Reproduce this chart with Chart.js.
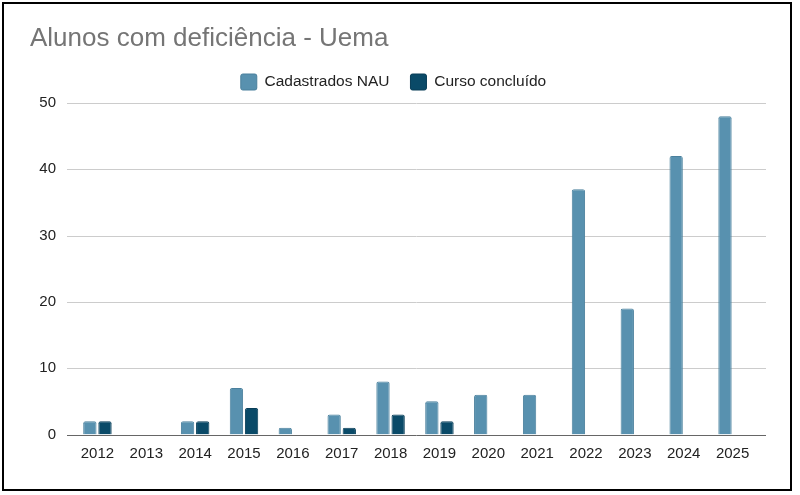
<!DOCTYPE html>
<html>
<head>
<meta charset="utf-8">
<script src="https://cdn.jsdelivr.net/npm/chart.js@4.4.1/dist/chart.umd.min.js"></script>
<style>
    html, body { margin: 0; padding: 0; background: #fff; }
    #frame {
        position: absolute; left: 2px; top: 2px;
        width: 786px; height: 485px;
        border: 2px solid #000;
    }
</style>
</head>
<body>
<div id="frame"><canvas id="barChart" width="786" height="485"></canvas></div>
<script>
var years = ["2012", "2013", "2014", "2015", "2016", "2017", "2018", "2019", "2020", "2021", "2022", "2023", "2024", "2025"];
var cadastrados = [2, 0, 2, 7, 1, 3, 8, 5, 6, 6, 37, 19, 42, 48];
var concluido = [2, 0, 2, 4, 0, 1, 3, 2, 0, 0, 0, 0, 0, 0];
var yTicks = [0, 10, 20, 30, 40, 50];

// grid lines in the reference run a little past the bar area on both sides
var wideGrid = {
    id: 'wideGrid',
    beforeDatasetsDraw: function(chart) {
        var ctx = chart.ctx, area = chart.chartArea, y = chart.scales.y;
        ctx.save();
        ctx.strokeStyle = "#cccccc";
        ctx.lineWidth = 1;
        yTicks.forEach(function(v) {
            if (v === 0) return;
            var py = Math.round(y.getPixelForValue(v)) + 0.5;
            ctx.beginPath();
            ctx.moveTo(area.left - 6, py);
            ctx.lineTo(area.right + 9, py);
            ctx.stroke();
        });
        ctx.restore();
    },
    afterDatasetsDraw: function(chart) {
        var ctx = chart.ctx, area = chart.chartArea, y = chart.scales.y;
        var py = Math.round(y.getPixelForValue(0)) + 0.5;
        ctx.save();
        ctx.strokeStyle = "#666666";
        ctx.lineWidth = 1;
        ctx.beginPath();
        ctx.moveTo(area.left - 6, py);
        ctx.lineTo(area.right + 9, py);
        ctx.stroke();
        ctx.restore();
    }
};

// fixed legend height so the plot top lands where the reference has it
var legendGap = {
    id: 'legendGap',
    beforeInit: function(chart) {
        var fit = chart.legend.fit;
        chart.legend.fit = function() {
            fit.bind(chart.legend)();
            this.height = 50;
        };
    }
};

window.onload = function () {
    var ctx = document.getElementById("barChart").getContext("2d");
    var myChart = new Chart(ctx, {
        type: 'bar',
        data: {
            labels: years,
            datasets: [{
                label: "Cadastrados NAU",
                data: cadastrados,
                backgroundColor: "#5891af",
                borderColor: "#4a809d",
                borderWidth: 1,
                borderRadius: 2
            }, {
                label: "Curso concluído",
                data: concluido,
                backgroundColor: "#0a4a68",
                borderColor: "#083d57",
                borderWidth: 1,
                borderRadius: 2
            }]
        },
        options: {
            responsive: false,
            animation: false,
            categoryPercentage: 0.62,
            barPercentage: 0.88,
            layout: { padding: { left: 26, right: 33, bottom: 0, top: 0 } },
            plugins: {
                title: {
                    display: true,
                    text: "Alunos com deficiência - Uema",
                    align: 'start',
                    color: "#757575",
                    font: { family: "'Liberation Sans', Arial", size: 26, weight: 'normal', lineHeight: 1 },
                    padding: { top: 22, bottom: 1 }
                },
                legend: {
                    labels: {
                        boxWidth: 16,
                        boxHeight: 16,
                        color: "#222",
                        padding: 21,
                        font: { family: "'Liberation Sans', Arial", size: 15.5 },
                        useBorderRadius: true,
                        borderRadius: 2
                    }
                },
                tooltip: { enabled: false }
            },
            scales: {
                x: {
                    grid: { display: false, drawTicks: false },
                    border: { display: false },
                    ticks: {
                        color: "#222",
                        padding: 10,
                        maxRotation: 0,
                        font: { family: "'Liberation Sans', Arial", size: 15 }
                    },
                    afterFit: function(scale) { scale.height = 54.5; }
                },
                y: {
                    min: 0,
                    max: 50,
                    grid: { display: false, drawTicks: false },
                    border: { display: false },
                    ticks: {
                        stepSize: 10,
                        color: "#222",
                        padding: 17,
                        font: { family: "'Liberation Sans', Arial", size: 15 }
                    },
                    afterFit: function(scale) { scale.width = 43; }
                }
            }
        },
        plugins: [wideGrid, legendGap]
    });
};
</script>
</body>
</html>
